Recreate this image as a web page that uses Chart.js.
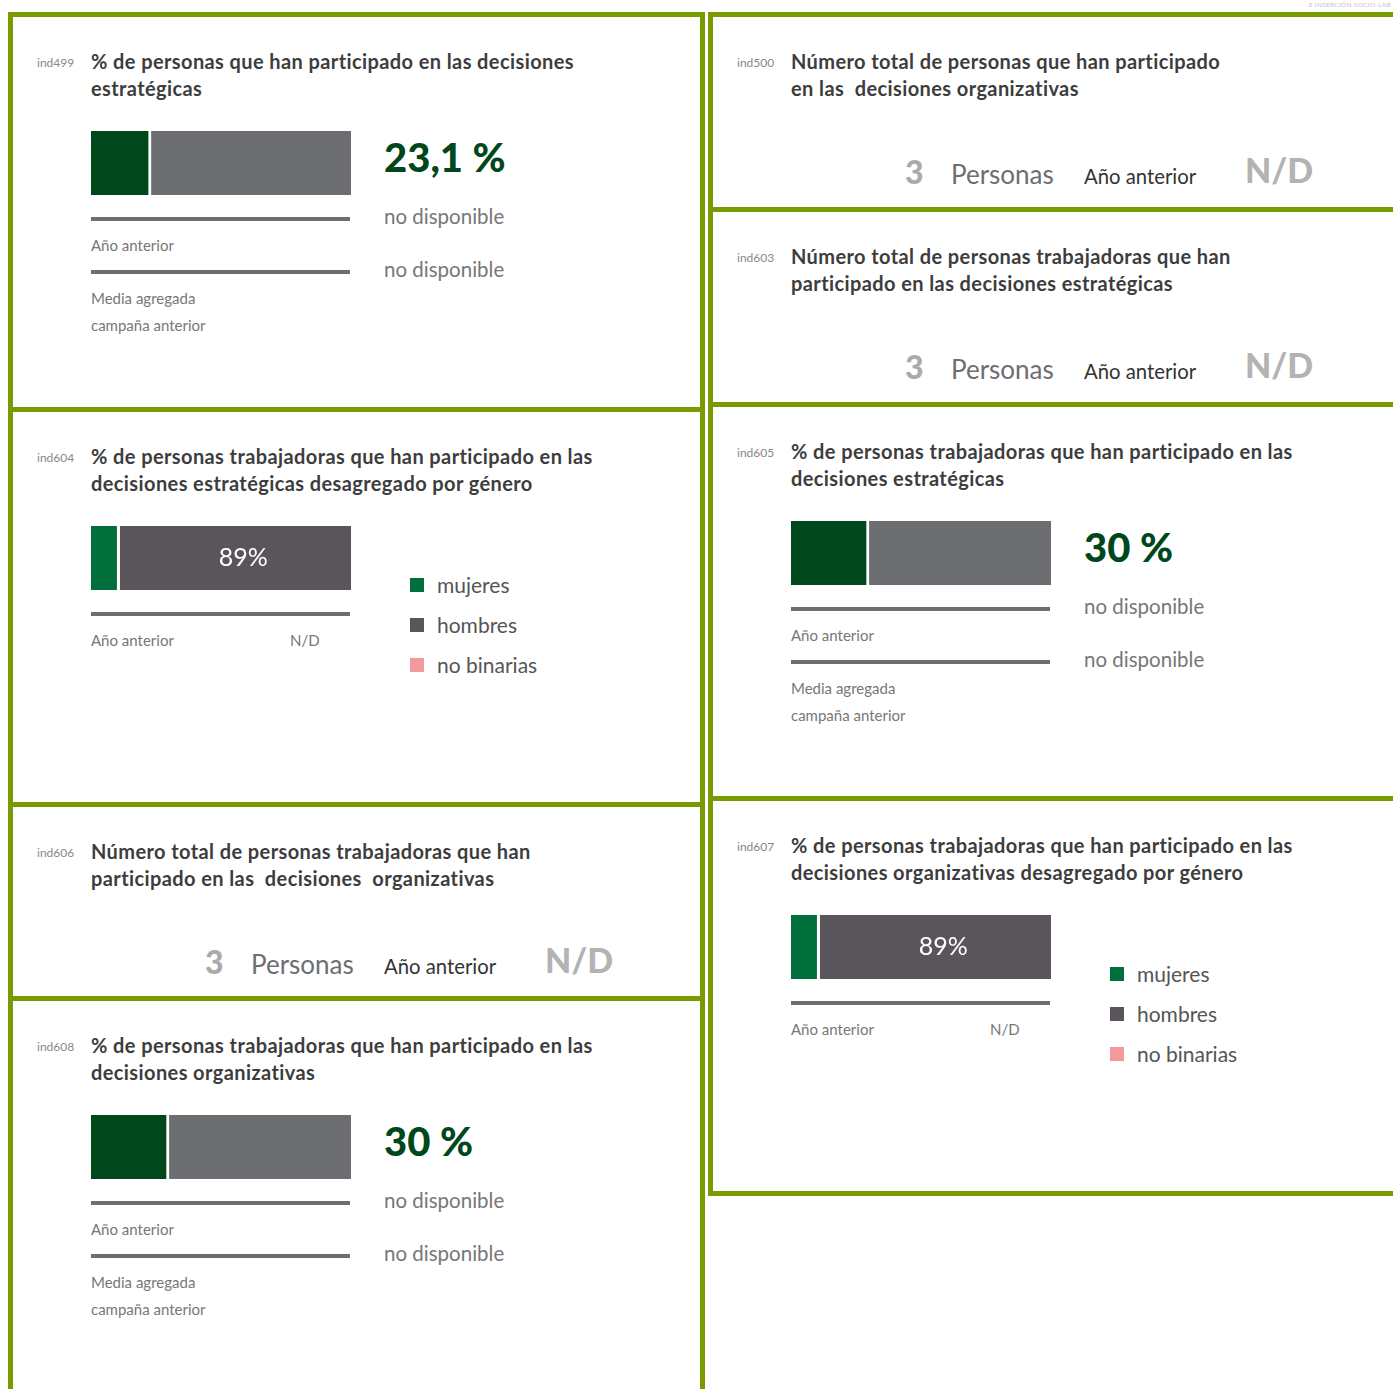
<!DOCTYPE html>
<html lang="es">
<head>
<meta charset="utf-8">
<title>Participación en decisiones</title>
<script src="https://cdn.jsdelivr.net/npm/chart.js@4/dist/chart.umd.min.js"></script>
<style>
  html, body { margin: 0; padding: 0; background: #fff; }
  body { width: 1393px; height: 1389px; position: relative; overflow: hidden; font-family: Lato, "Noto Sans", sans-serif; }
  .panel { position: absolute; box-sizing: border-box; border: 5px solid #7a9a01; background: #fff; }
  .t { position: absolute; white-space: nowrap; }
  .rule { position: absolute; height: 4px; background: #6d6e71; }
  .sq { position: absolute; width: 14px; height: 14px; }
  canvas { position: absolute; }
  #brand { position: absolute; right: 2px; top: 1px; font-size: 6.5px; color: #c4c4c4; letter-spacing: 0.3px; white-space: nowrap; }
</style>
</head>
<body>
<div id="brand">E INSERCIÓN SOCIO-LAB</div>
<script>
// percentage indicators
const shareCodes = ['ind499', 'ind605', 'ind608'];
const shareValues = [23.1, 30, 30];
const shareLabels = ['23,1 %', '30 %', '30 %'];

// gender breakdown indicators
const genderCodes = ['ind604', 'ind607'];
const genderCategories = ['mujeres', 'hombres', 'no binarias'];
const genderValues = [
  [11, 89, 0],
  [11, 89, 0],
];

// headcount indicators
const countCodes = ['ind500', 'ind603', 'ind606'];
const countValues = [3, 3, 3];

const titles = {
  ind499: ['% de personas que han participado en las decisiones', 'estratégicas'],
  ind500: ['Número total de personas que han participado', 'en las\u00a0 decisiones organizativas'],
  ind603: ['Número total de personas trabajadoras que han', 'participado en las decisiones estratégicas'],
  ind604: ['% de personas trabajadoras que han participado en las', 'decisiones estratégicas desagregado por género'],
  ind605: ['% de personas trabajadoras que han participado en las', 'decisiones estratégicas'],
  ind606: ['Número total de personas trabajadoras que han', 'participado en las\u00a0 decisiones\u00a0 organizativas'],
  ind607: ['% de personas trabajadoras que han participado en las', 'decisiones organizativas desagregado por género'],
  ind608: ['% de personas trabajadoras que han participado en las', 'decisiones organizativas'],
};

// panel boxes: [code, left, top, height]
const panels = [
  ['ind499', 8, 12, 400],
  ['ind604', 8, 407, 400],
  ['ind606', 8, 802, 199],
  ['ind608', 8, 996, 420],
  ['ind500', 708, 12, 200],
  ['ind603', 708, 207, 200],
  ['ind605', 708, 402, 399],
  ['ind607', 708, 796, 400],
];

const shareColors = ['#00471b', '#6d6e71'];
const genderColors = ['#006f3c', '#5a555a', '#f4999b'];

function text(parent, str, x, cy, size, css) {
  const el = document.createElement('div');
  el.className = 't';
  el.textContent = str;
  el.style.left = x + 'px';
  el.style.top = cy - size * 0.7 + 'px';
  el.style.fontSize = size + 'px';
  el.style.lineHeight = size * 1.4 + 'px';
  Object.assign(el.style, css || {});
  parent.appendChild(el);
  return el;
}

function rule(parent, y) {
  const el = document.createElement('div');
  el.className = 'rule';
  el.style.left = '78px';
  el.style.top = y + 'px';
  el.style.width = '259px';
  parent.appendChild(el);
}

// value label inside the "hombres" segment
const barLabel = {
  id: 'barLabel',
  afterDatasetsDraw(chart, args, opts) {
    if (!opts.text) return;
    const el = chart.getDatasetMeta(1).data[0];
    const ctx = chart.ctx;
    ctx.save();
    ctx.fillStyle = '#fff';
    ctx.font = '25px Lato, "Noto Sans", sans-serif';
    ctx.textAlign = 'center';
    ctx.textBaseline = 'middle';
    ctx.fillText(opts.text, (el.x + el.base) / 2 + 8, el.y);
    ctx.restore();
  },
};

function stackedBar(parent, values, colors, label) {
  const cv = document.createElement('canvas');
  cv.width = 260;
  cv.height = 64;
  cv.style.left = '78px';
  cv.style.top = '114px';
  parent.appendChild(cv);
  new Chart(cv, {
    type: 'bar',
    plugins: [barLabel],
    data: {
      labels: [''],
      datasets: values.map((v, i) => ({
        data: [v],
        backgroundColor: colors[i],
        borderColor: '#ffffff',
        borderWidth: i === 0 ? { right: 3 } : 0,
        borderSkipped: false,
        barPercentage: 1,
        categoryPercentage: 1,
      })),
    },
    options: {
      indexAxis: 'y',
      responsive: false,
      animation: false,
      layout: { padding: 0 },
      plugins: {
        legend: { display: false },
        tooltip: { enabled: false },
        barLabel: { text: label },
      },
      scales: {
        x: { display: false, stacked: true, min: 0, max: 100 },
        y: { display: false, stacked: true },
      },
    },
  });
}

const grey = { color: '#777' };

for (const [code, left, top, height] of panels) {
  const p = document.createElement('div');
  p.className = 'panel';
  p.style.left = left + 'px';
  p.style.top = top + 'px';
  p.style.width = (left < 100 ? 697 : 700) + 'px';
  p.style.height = height + 'px';
  document.body.appendChild(p);

  text(p, code, 24, 46, 12, { color: '#888' });
  titles[code].forEach((line, i) => {
    text(p, line, 78, 44 + i * 27, 20, { fontWeight: 'bold', color: '#3d3d3d', letterSpacing: '0.4px' });
  });

  let k = shareCodes.indexOf(code);
  if (k >= 0) {
    stackedBar(p, [shareValues[k], 100 - shareValues[k]], shareColors, null);
    text(p, shareLabels[k], 371, 140, 40, { fontWeight: 900, color: '#00471b' });
    rule(p, 200);
    text(p, 'Año anterior', 78, 228, 15, grey);
    rule(p, 253);
    text(p, 'Media agregada', 78, 281, 15, grey);
    text(p, 'campaña anterior', 78, 308, 15, grey);
    text(p, 'no disponible', 371, 199, 20.5, grey);
    text(p, 'no disponible', 371, 252, 20.5, grey);
  }

  k = genderCodes.indexOf(code);
  if (k >= 0) {
    stackedBar(p, genderValues[k], genderColors, genderValues[k][1] + '%');
    rule(p, 200);
    text(p, 'Año anterior', 78, 228, 15, grey);
    text(p, 'N/D', 277, 228, 15, grey);
    genderCategories.forEach((name, i) => {
      const sq = document.createElement('div');
      sq.className = 'sq';
      sq.style.left = '397px';
      sq.style.top = 166 + i * 40 + 'px';
      sq.style.background = genderColors[i];
      p.appendChild(sq);
      text(p, name, 424, 173 + i * 40, 21, { color: '#555' });
    });
  }

  k = countCodes.indexOf(code);
  if (k >= 0) {
    text(p, String(countValues[k]), 192, 155, 32, { fontWeight: 900, color: '#aaa' });
    text(p, 'Personas', 238, 157, 26, { color: '#6d6e71' });
    text(p, 'Año anterior', 371, 159, 20.3, { color: '#333' });
    text(p, 'N/D', 532, 153, 34, { fontWeight: 900, color: '#b3b3b3' });
  }
}
</script>
</body>
</html>
